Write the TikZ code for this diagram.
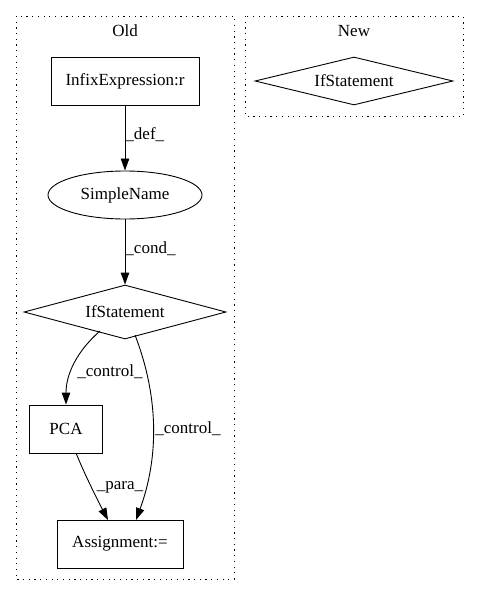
\documentclass[tikz,border=0pt]{standalone}
\usepackage{fontspec}
\setmainfont{Liberation Serif}
\usetikzlibrary{arrows.meta,shapes.geometric}
\begin{document}
\begin{tikzpicture}[x=1pt,y=-1pt,
  font=\fontsize{17pt}{19pt}\selectfont,
  cluster/.style={draw, line width=0.9pt, dash pattern=on 1.2pt off 4.5pt},
  boxnode/.style={draw, line width=0.9pt, rectangle, inner sep=0pt},
  ellnode/.style={draw, line width=0.9pt, ellipse, inner sep=0pt},
  dianode/.style={draw, line width=0.9pt, diamond, aspect=3.7, inner sep=0pt},
  edge/.style={draw, line width=0.9pt, -{Triangle[length=12pt,width=8.5pt]}},
  elabel/.style={inner sep=1pt}
]
\useasboundingbox (0,0) rectangle (480,596);
\draw[cluster] (16,16) rectangle (234,579);
\draw[cluster] (245,16) rectangle (463,116);
\node (oldlbl) at (125,31) {Old};
\node (newlbl) at (354,31) {New};

\node[boxnode, minimum width=148pt, minimum height=48pt] (infix) at (125,81) {InfixExpression:r};
\node[ellnode, minimum width=154pt, minimum height=48pt] (simple) at (125,195) {SimpleName};
\node[dianode, minimum width=202pt, minimum height=54pt] (ifs) at (125,312) {IfStatement};
\node[boxnode, minimum width=73pt, minimum height=48pt] (pca) at (66,429) {PCA};
\node[boxnode, minimum width=126pt, minimum height=48pt] (assign) at (120,544) {Assignment:=};
\node[dianode, minimum width=198pt, minimum height=48pt] (ifsnew) at (354,81) {IfStatement};

\draw[edge] (infix) -- (simple) node[elabel, pos=0.45, right=-1pt] {\_def\_};
\draw[edge] (simple) -- (ifs.north) node[elabel, pos=0.45, right=-1pt] {\_cond\_};
\draw[edge] (100,331) .. controls (76,352) and (66,375) .. (pca.north);
\node[elabel] (lc1) at (110,372) {\_control\_};
\draw[edge] (135,335) .. controls (160,400) and (158,460) .. (136,520);
\node[elabel] (lc2) at (188,429) {\_control\_};
\draw[edge] (76,453) .. controls (85,475) and (96,497) .. (108,520);
\node[elabel] (lp) at (120,487) {\_para\_};
\end{tikzpicture}
\end{document}
